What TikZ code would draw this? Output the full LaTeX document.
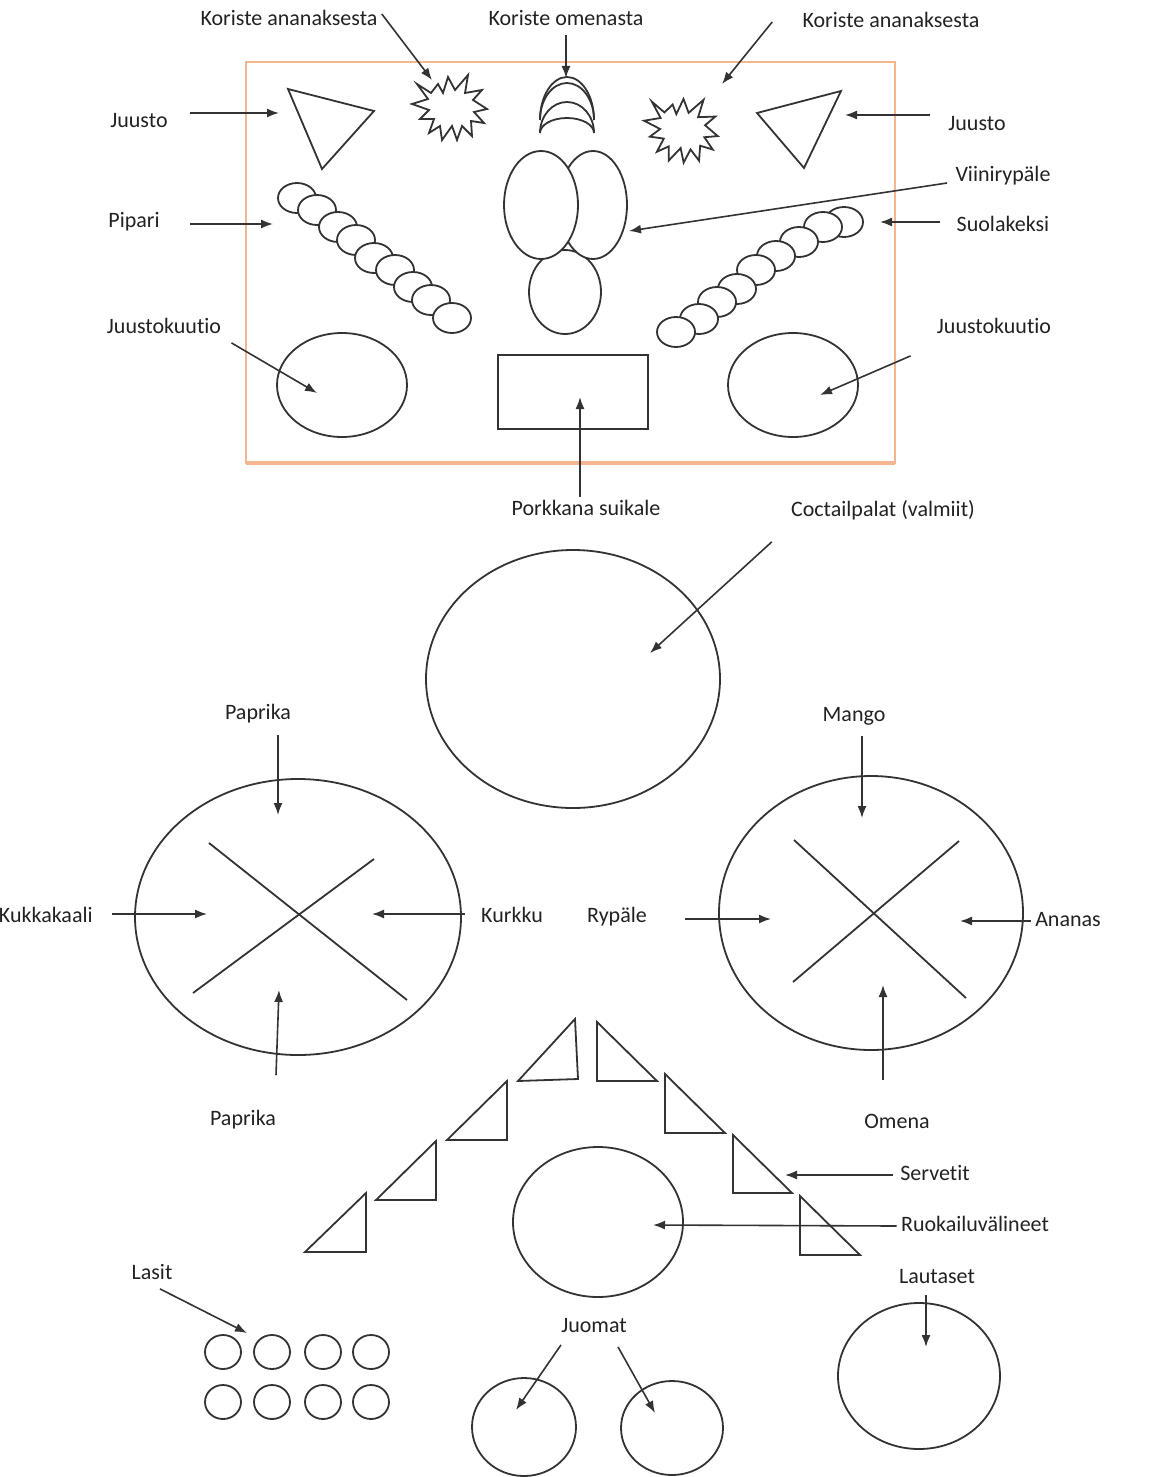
\documentclass[tikz,border=0pt]{standalone}
\usepackage{fontspec}
\setmainfont{Carlito}[Ligatures={NoCommon}]
\usepackage{xcolor}
\usetikzlibrary{arrows.meta, positioning}
\definecolor{ink}{HTML}{333333}
\definecolor{txt}{HTML}{222222}
\definecolor{tray}{HTML}{F3B68E}

\begin{document}
\begin{tikzpicture}[x=0.5pt,y=-0.5pt]
\tikzstyle{lbl}=[text=txt,font=\fontsize{11}{13}\selectfont,inner sep=2pt,text height=8pt,text depth=2.5pt]
\tikzstyle{arr}=[draw=ink,line width=0.8pt,-{Latex[length=6pt,width=4.5pt]}]
\tikzstyle{outline}=[draw=ink,line width=0.9pt]
\tikzstyle{cookie}=[outline,fill=white]

\useasboundingbox (0,0) rectangle (1148,1477);

% Tray
\draw[tray,line width=0.9pt] (246,62) rectangle (895,463);
\draw[tray,line width=1.6pt] (246,463) -- (895,463);

% Cheese triangles
\draw[outline] (288,89) -- (374,111) -- (322,169) -- cycle;
\draw[outline] (757,113) -- (841,91) -- (804,168) -- cycle;

% Pineapple stars
\foreach \cx/\cy/\rot in {450/102/0, 682/124/-8} {
  \draw[outline,shift={(\cx,\cy)},rotate=\rot]
    (-33,-18) -- (-19,-9) -- (-12,-18) -- (-7,-9) -- (-2,-25) -- (5,-12)
    -- (18,-27) -- (15,-9) -- (32,-12) -- (23,-2) -- (37,7) -- (24,10)
    -- (34,21) -- (21,19) -- (22,34) -- (12,24) -- (7,38) -- (2,24)
    -- (-8,38) -- (-10,24) -- (-21,31) -- (-16,17) -- (-30,17) -- (-21,8)
    -- (-38,2) -- (-22,-3) -- cycle;
}

% Apple crescents
\draw[outline] (540,120) arc[start angle=180,end angle=360,x radius=27,y radius=43];
\draw[outline] (540,120) arc[start angle=180,end angle=360,x radius=27,y radius=37];
\draw[outline] (540,133) arc[start angle=180,end angle=360,x radius=27,y radius=31];
\draw[outline] (540,133) arc[start angle=180,end angle=360,x radius=27,y radius=15];

% Grapes
\draw[cookie] (565,292) ellipse[x radius=36,y radius=42];
\draw[cookie] (593,205) ellipse[x radius=34,y radius=54];
\draw[cookie] (541,205) ellipse[x radius=37,y radius=54];

% Gingerbread and crackers
\foreach \px/\py in {297/198, 317/210, 338/227, 356/240, 374/258, 395/270, 413/287, 431/300, 452/318}
  \draw[cookie] (\px,\py) ellipse[x radius=19,y radius=15];
\foreach \px/\py in {844/222, 823/227, 799/242, 776/256, 756/270, 737/289, 717/302, 699/319, 676/332}
  \draw[cookie] (\px,\py) ellipse[x radius=19,y radius=15];

% Cheese cubes and carrot sticks
\draw[outline] (342,385) ellipse[x radius=65,y radius=52];
\draw[outline] (793,385) ellipse[x radius=65,y radius=52];
\draw[outline] (498,355) rectangle (648,429);

% Cocktail snacks
\draw[outline] (573,679) ellipse[x radius=147,y radius=129];

% Vegetable plate
\draw[outline] (298,917) ellipse[x radius=163,y radius=138];
\draw[outline] (209,843) -- (407,1000);
\draw[outline] (374,859) -- (193,993);

% Fruit plate
\draw[outline] (871,913) ellipse[x radius=152,y radius=137];
\draw[outline] (794,840) -- (966,998);
\draw[outline] (959,841) -- (793,982);

% Napkins
\draw[outline] (518,1081) -- (578,1079) -- (575,1019) -- cycle;
\draw[outline] (447,1140) -- (507,1140) -- (507,1081) -- cycle;
\draw[outline] (376,1200) -- (436,1200) -- (436,1141) -- cycle;
\draw[outline] (305,1252) -- (366,1252) -- (366,1193) -- cycle;
\draw[outline] (597,1022) -- (597,1081) -- (657,1081) -- cycle;
\draw[outline] (665,1074) -- (665,1133) -- (725,1133) -- cycle;
\draw[outline] (733,1135) -- (733,1193) -- (792,1193) -- cycle;
\draw[outline] (800,1196) -- (800,1255) -- (860,1255) -- cycle;

% Cutlery, glasses, plates, drinks
\draw[outline] (598,1222) ellipse[x radius=85,y radius=75];
\foreach \gx in {223,272,323,371}
  \foreach \gy in {1352,1402}
    \draw[outline] (\gx,\gy) ellipse[x radius=18,y radius=17];
\draw[outline] (919,1376) ellipse[x radius=81,y radius=73];
\draw[outline] (524,1427) ellipse[x radius=52,y radius=49];
\draw[outline] (672,1428) ellipse[x radius=51,y radius=47];

% Labels
\node[lbl] (kor1) at (289,20) {Koriste ananaksesta};
\node[lbl] (omena) at (566,20) {Koriste omenasta};
\node[lbl] (kor2) at (891,22) {Koriste ananaksesta};
\node[lbl] (juusto1) at (139,122) {Juusto};
\node[lbl] (juusto2) at (977,125) {Juusto};
\node[lbl] (viini) at (1003,176) {Viinirypäle};
\node[lbl] (pipari) at (134,222) {Pipari};
\node[lbl] (suola) at (1003,226) {Suolakeksi};
\node[lbl] (kuutio1) at (164,328) {Juustokuutio};
\node[lbl] (kuutio2) at (994,328) {Juustokuutio};
\node[lbl] (porkkana) at (586,510) {Porkkana suikale};
\node[lbl] (cocktail) at (883,511) {Coctailpalat (valmiit)};
\node[lbl] (paprika1) at (258,714) {Paprika};
\node[lbl] (mango) at (854,716) {Mango};
\node[lbl,anchor=east] (kukka) at (97,917) {Kukkakaali};
\node[lbl] (kurkku) at (512,917) {Kurkku};
\node[lbl] (rypale) at (617,917) {Rypäle};
\node[lbl] (ananas) at (1068,921) {Ananas};
\node[lbl] (paprika2) at (243,1120) {Paprika};
\node[lbl] (omena2) at (897,1123) {Omena};
\node[lbl] (servetit) at (935,1175) {Servetit};
\node[lbl] (ruoka) at (975,1226) {Ruokailuvälineet};
\node[lbl] (lasit) at (152,1274) {Lasit};
\node[lbl] (lautaset) at (937,1278) {Lautaset};
\node[lbl] (juomat) at (594,1327) {Juomat};

% Arrow targets
\coordinate (kor1t) at (432,80);
\coordinate (omenat) at (566,78);
\coordinate (kor2t) at (722,84);
\coordinate (juusto1t) at (279,113);
\coordinate (juusto2t) at (845,115);
\coordinate (viinit) at (629,231);
\coordinate (piparit) at (273,224);
\coordinate (suolat) at (880,222);
\coordinate (kuutio1t) at (317,393);
\coordinate (kuutio2t) at (820,395);
\coordinate (porkkanat) at (580,397);
\coordinate (cocktailt) at (650,653);
\coordinate (paprika1t) at (278,815);
\coordinate (mangot) at (862,818);
\coordinate (kukkat) at (207,914);
\coordinate (kurkkut) at (372,914);
\coordinate (rypalet) at (771,919);
\coordinate (ananast) at (960,921);
\coordinate (paprika2t) at (279,990);
\coordinate (omena2t) at (883,985);
\coordinate (servetitt) at (785,1175);
\coordinate (ruokat) at (653,1225);
\coordinate (lasitt) at (247,1333);
\coordinate (lautasett) at (926,1347);
\coordinate (juomat1t) at (516,1410);
\coordinate (juomat2t) at (655,1413);

% Arrows
\draw[arr] ([yshift=3pt]kor1.east) -- (kor1t);
\draw[arr] (omena.south) -- (omenat);
\draw[arr] ([xshift=-13pt]kor2.west) -- (kor2t);
\draw[arr] ([xshift=9pt,yshift=4.5pt]juusto1.east) -- (juusto1t);
\draw[arr] ([xshift=-7pt,yshift=5pt]juusto2.west) -- (juusto2t);
\draw[arr] ([xshift=-2pt,yshift=-3.5pt]viini.west) -- (viinit);
\draw[arr] ([xshift=13pt,yshift=-1pt]pipari.east) -- (piparit);
\draw[arr] ([xshift=-6pt,yshift=2pt]suola.west) -- (suolat);
\draw[arr] ([xshift=3pt]kuutio1.south east) -- (kuutio1t);
\draw[arr] ([xshift=-11pt,yshift=-6.5pt]kuutio2.south west) -- (kuutio2t);
\draw[arr] ([xshift=-3pt,yshift=-1pt]porkkana.north) -- (porkkanat);
\draw[arr] ([xshift=-7.5pt,yshift=-8pt]cocktail.south west) -- (cocktailt);
\draw[arr] ([xshift=10pt,yshift=-3pt]paprika1.south) -- (paprika1t);
\draw[arr] ([xshift=4pt,yshift=-2.5pt]mango.south) -- (mangot);
\draw[arr] ([xshift=7.5pt,yshift=1.5pt]kukka.east) -- (kukkat);
\draw[arr] ([xshift=-6pt,yshift=1.5pt]kurkku.west) -- (kurkkut);
\draw[arr] ([xshift=17pt,yshift=-1pt]rypale.east) -- (rypalet);
\draw[arr] ([yshift=0pt]ananas.west) -- (ananast);
\draw[arr] ([xshift=16.5pt,yshift=15pt]paprika2.north) -- (paprika2t);
\draw[arr] ([xshift=-7pt,yshift=14pt]omena2.north) -- (omena2t);
\draw[arr] ([xshift=-1.5pt]servetit.west) -- (servetitt);
\draw[arr] (ruoka.west) -- (ruokat);
\draw[arr] ([xshift=4pt]lasit.south) -- (lasitt);
\draw[arr] ([xshift=-5.5pt,yshift=-1pt]lautaset.south) -- (lautasett);
\draw[arr] ([xshift=-16.5pt,yshift=-1.5pt]juomat.south) -- (juomat1t);
\draw[arr] ([xshift=12pt,yshift=-2.5pt]juomat.south) -- (juomat2t);

\end{tikzpicture}
\end{document}
